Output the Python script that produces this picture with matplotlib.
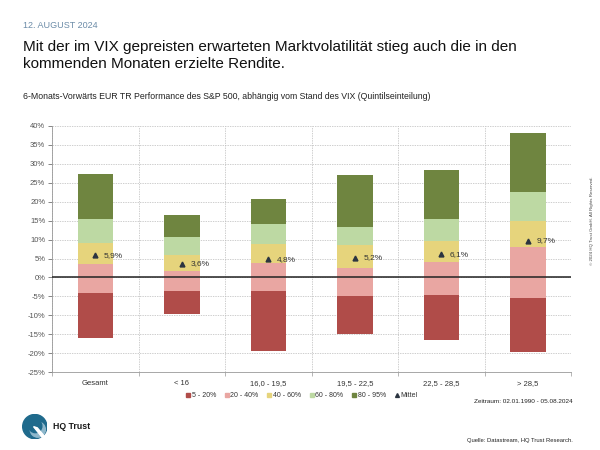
import matplotlib
matplotlib.use("Agg")
import matplotlib.pyplot as plt
from matplotlib.lines import Line2D
from matplotlib.patches import Circle, Polygon
import numpy as np

plt.rcParams["font.family"] = ["Liberation Sans", "DejaVu Sans"]

categories = ["Gesamt", "< 16", "16,0 - 19,5", "19,5 - 22,5", "22,5 - 28,5", "> 28,5"]
# Perzentile der 6-Monats-Renditen in %
p05 = [-15.9, -9.6, -19.4, -15.0, -16.5, -19.6]
p20 = [-4.2, -3.6, -3.5, -4.8, -4.6, -5.3]
p40 = [3.5, 1.7, 3.7, 2.6, 4.0, 8.1]
p60 = [9.2, 5.9, 8.8, 8.7, 9.7, 14.9]
p80 = [15.4, 10.6, 14.0, 13.4, 15.4, 22.6]
p95 = [27.2, 16.6, 20.7, 27.1, 28.5, 38.2]
mittel = [5.9, 3.6, 4.8, 5.2, 6.1, 9.7]

band_labels = ["5 - 20%", "20 - 40%", "40 - 60%", "60 - 80%", "80 - 95%"]
band_colors = ["#B04C49", "#E9A6A2", "#E6D47C", "#BDD9A3", "#6F8540"]
bounds = [p05, p20, p40, p60, p80, p95]

fig = plt.figure(figsize=(6, 4.5), dpi=100)
ax = fig.add_axes([0.087, 0.173, 0.865, 0.547])

x = np.arange(len(categories))
for i in range(5):
    lo = np.array(bounds[i]); hi = np.array(bounds[i + 1])
    ax.bar(x, hi - lo, bottom=lo, width=0.41, color=band_colors[i], zorder=3)

ax.plot(x, mittel, linestyle="none", marker="^", color="#2B3440", markersize=3.5, zorder=4)
for xi, m in zip(x, mittel):
    ax.text(xi + 0.1, m, f"{m:.1f}%".replace(".", ","), fontsize=6, color="#333333",
            va="center", ha="left", zorder=5)

ax.axhline(0, color="#222222", linewidth=1.1, zorder=4)
ax.set_ylim(-25, 40)
ax.set_xlim(-0.5, len(categories) - 0.5)
ax.set_yticks(np.arange(-25, 41, 5))
ax.set_yticklabels([f"{v}%" for v in range(-25, 41, 5)])
ax.set_xticks(x)
ax.set_xticklabels(categories)
ax.set_xticks(np.arange(-0.5, len(categories), 1), minor=True)
ax.tick_params(axis="y", labelsize=5.5, colors="#555555", length=3, width=0.5, pad=2)
ax.tick_params(axis="x", which="major", labelsize=5.5, colors="#333333", length=0, pad=6)
ax.tick_params(axis="x", which="minor", length=3, width=0.5, color="#999999")
ax.grid(axis="y", color="#BBBBBB", linestyle=(0, (2, 1.5)), linewidth=0.5, zorder=0)
ax.grid(axis="x", which="minor", color="#BBBBBB", linestyle=(0, (2, 1.5)), linewidth=0.5, zorder=0)
for s in ["top", "right"]:
    ax.spines[s].set_visible(False)
for s in ["left", "bottom"]:
    ax.spines[s].set_color("#999999")
    ax.spines[s].set_linewidth(0.6)

handles = [Line2D([], [], linestyle="none", marker="s", markersize=3, color=c) for c in band_colors]
handles.append(Line2D([], [], linestyle="none", marker="^", markersize=2.8, color="#2B3440"))
fig.legend(handles, band_labels + ["Mittel"], loc="center", bbox_to_anchor=(0.503, 0.121),
           ncol=6, frameon=False, fontsize=5, handlelength=0.5, handletextpad=0.25,
           columnspacing=1.3, labelcolor="#333333")

# Texte
fig.text(0.038, 0.944, "12. AUGUST 2024", fontsize=6.5, color="#6C8CA8", va="center")
fig.text(0.038, 0.876, "Mit der im VIX gepreisten erwarteten Marktvolatilität stieg auch die in den\n"
         "kommenden Monaten erzielte Rendite.", fontsize=11, color="#111111",
         va="center", linespacing=1.3)
fig.text(0.038, 0.785, "6-Monats-Vorwärts EUR TR Performance des S&P 500, abhängig vom Stand des VIX "
         "(Quintilseinteilung)", fontsize=6.3, color="#222222", va="center")
fig.text(0.955, 0.108, "Zeitraum: 02.01.1990 - 05.08.2024", fontsize=4.6, color="#222222",
         ha="right", va="center")
fig.text(0.955, 0.022, "Quelle: Datastream, HQ Trust Research.", fontsize=4.2, color="#222222",
         ha="right", va="center")
fig.text(0.987, 0.51, "© 2024 HQ Trust GmbH. All Rights Reserved.", fontsize=3.2, color="#444444",
         rotation=90, ha="center", va="center")

# Logo
lax = fig.add_axes([0.037, 0.024, 0.042, 0.056])
lax.set_xlim(0, 1); lax.set_ylim(0, 1); lax.set_aspect("equal"); lax.axis("off")
lax.add_patch(Circle((0.5, 0.5), 0.48, color="#1F6A8C"))
lax.add_patch(Circle((0.62, 0.38), 0.3, color="#8FB8CC"))
lax.add_patch(Circle((0.52, 0.52), 0.26, color="#1F6A8C"))
lax.add_patch(Polygon([[0.45, 0.5], [0.6, 0.45], [0.98, 0.0], [0.85, 0.0]], color="white"))
fig.text(0.088, 0.053, "HQ Trust", fontsize=6.3, fontweight="bold", color="#1A1A1A", va="center")

fig.savefig("out.png", dpi=100)
